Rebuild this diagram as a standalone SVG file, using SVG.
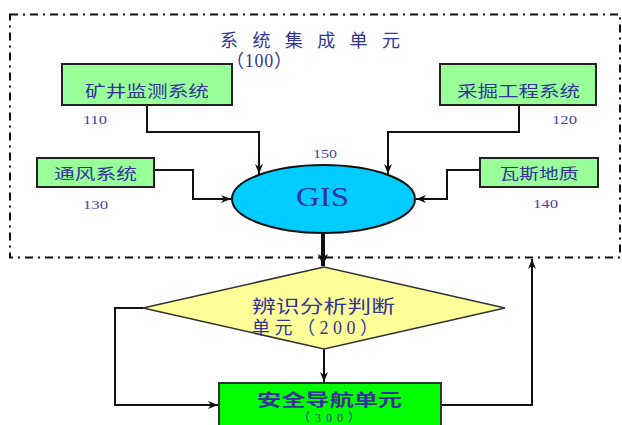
<svg xmlns="http://www.w3.org/2000/svg" width="622" height="425" viewBox="0 0 622 425">
  <defs>
    <style>
      .cjk { font-family: "Liberation Serif", "Noto Sans CJK SC", serif; fill: #333399; }
      .num { font-family: "Liberation Serif", serif; font-size: 13px; fill: #4444aa; }
      .box { fill: #99ff99; stroke: #222; stroke-width: 2; }
      .wire { fill: none; stroke: #111; stroke-width: 2; }
    </style>
    <marker id="arr" markerUnits="userSpaceOnUse" viewBox="0 0 10 8" refX="10" refY="4" markerWidth="10" markerHeight="8" orient="auto">
      <path d="M0,0 L10,4 L0,8 L3,4 z" fill="#111"/>
    </marker>
    <marker id="arrBig" markerUnits="userSpaceOnUse" viewBox="0 0 12 10" refX="12" refY="5" markerWidth="12" markerHeight="10" orient="auto">
      <path d="M0,0 L12,5 L0,10 L3,5 z" fill="#111"/>
    </marker>
  </defs>
  <rect width="622" height="425" fill="#ffffff"/>

  <!-- system integration unit frame -->
  <g id="frame100">
    <rect x="10" y="14.5" width="610" height="243" fill="none" stroke="#111" stroke-width="2" stroke-dasharray="8 5 2 5"/>
    <text class="cjk" x="220" y="47" font-size="18" letter-spacing="14.4">系统集成单元</text>
    <text class="cjk" x="226" y="67" font-size="18" textLength="66" lengthAdjust="spacing">（100）</text>
  </g>

  <!-- connectors -->
  <g id="connectors">
    <path class="wire" d="M147,105 V132 H259 V174" marker-end="url(#arr)"/>
    <path class="wire" d="M519,105 V132 H388 V174" marker-end="url(#arr)"/>
    <path class="wire" d="M154,170 H193 V199 H231" marker-end="url(#arr)"/>
    <path class="wire" d="M480,170 H447 V199 H416" marker-end="url(#arr)"/>
    <path fill="none" stroke="#111" stroke-width="4" d="M323,233 V266" marker-end="url(#arrBig)"/>
    <path class="wire" d="M324,349 V382" marker-end="url(#arr)"/>
    <path class="wire" d="M143,308 H115 V405 H218" marker-end="url(#arr)"/>
    <path class="wire" d="M441,405 H532 V259" marker-end="url(#arr)"/>
  </g>

  <g id="node110">
    <rect class="box" x="62" y="64" width="170" height="41"/>
    <text class="cjk" x="147" y="97" font-size="16" text-anchor="middle" textLength="124" lengthAdjust="spacingAndGlyphs">矿井监测系统</text>
    <text class="num" x="83" y="124" textLength="24" lengthAdjust="spacingAndGlyphs">110</text>
  </g>

  <g id="node120">
    <rect class="box" x="440" y="64" width="156" height="41"/>
    <text class="cjk" x="518.5" y="97" font-size="16" text-anchor="middle" textLength="123" lengthAdjust="spacingAndGlyphs">采掘工程系统</text>
    <text class="num" x="552" y="124" textLength="25" lengthAdjust="spacingAndGlyphs">120</text>
  </g>

  <g id="node130">
    <rect class="box" x="37" y="158" width="117" height="29"/>
    <text class="cjk" x="95.5" y="179" font-size="15" text-anchor="middle" textLength="83" lengthAdjust="spacingAndGlyphs">通风系统</text>
    <text class="num" x="83" y="209" textLength="25" lengthAdjust="spacingAndGlyphs">130</text>
  </g>

  <g id="node140">
    <rect class="box" x="480" y="158" width="118" height="29"/>
    <text class="cjk" x="539" y="179" font-size="15" text-anchor="middle" textLength="79" lengthAdjust="spacingAndGlyphs">瓦斯地质</text>
    <text class="num" x="533" y="208" textLength="25" lengthAdjust="spacingAndGlyphs">140</text>
  </g>

  <g id="node150">
    <ellipse cx="323.5" cy="199" rx="91.5" ry="34" fill="#00ccff" stroke="#111" stroke-width="2"/>
    <text x="322.5" y="206" font-family="Liberation Serif, serif" font-size="27" fill="#333399" text-anchor="middle" textLength="53" lengthAdjust="spacingAndGlyphs">GIS</text>
    <text class="num" x="313" y="158" textLength="24" lengthAdjust="spacingAndGlyphs">150</text>
  </g>

  <g id="node200">
    <polygon points="143,308 324,267 505,308 324,349" fill="#ffff99" stroke="#333" stroke-width="1.5"/>
    <text class="cjk" x="252" y="313" font-size="18" textLength="143" lengthAdjust="spacingAndGlyphs">辨识分析判断</text>
    <text class="cjk" x="252" y="334" font-size="18" textLength="126" lengthAdjust="spacing">单元（200）</text>
  </g>

  <g id="node300">
    <rect x="219" y="383" width="222" height="60" fill="#00ff00" stroke="#333" stroke-width="2"/>
    <text class="cjk" x="329.5" y="406" font-size="17" font-weight="bold" text-anchor="middle" textLength="145" lengthAdjust="spacingAndGlyphs">安全导航单元</text>
    <text class="cjk" x="329" y="422" font-size="12" text-anchor="middle" textLength="62" lengthAdjust="spacing">（300）</text>
  </g>
</svg>
